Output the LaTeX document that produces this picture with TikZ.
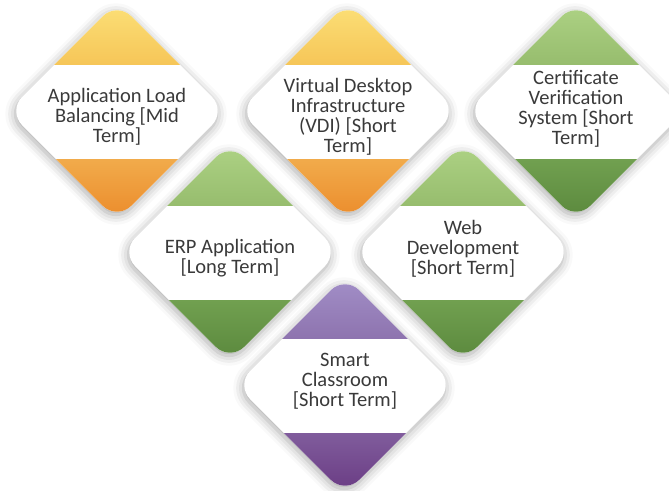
\documentclass[tikz,border=0pt]{standalone}
\usepackage{fontspec}
\setmainfont{Carlito}
\usetikzlibrary{shadows.blur}
\definecolor{orA}{HTML}{FBDD74}
\definecolor{orB}{HTML}{F6C658}
\definecolor{orC}{HTML}{F1AB4B}
\definecolor{orD}{HTML}{EC8F2F}
\definecolor{grA}{HTML}{ABD082}
\definecolor{grB}{HTML}{97BD6E}
\definecolor{grC}{HTML}{71A050}
\definecolor{grD}{HTML}{5D8B3F}
\definecolor{puA}{HTML}{A08CC5}
\definecolor{puB}{HTML}{8E74AF}
\definecolor{puC}{HTML}{805C9C}
\definecolor{puD}{HTML}{6C3F86}
\definecolor{txt}{HTML}{3A3A3A}
\tikzset{
  tilelabel/.style={align=center, text=txt, font=\fontsize{20.5}{20}\selectfont, inner sep=0pt},
  tileshape/.style={fill=white, rounded corners=20pt,
    blur shadow={shadow xshift=-1pt, shadow yshift=-3pt, shadow blur radius=10pt, shadow opacity=35}},
}
% #1 name, #2 cx, #3 cy, #4-#7 colours, #8 text, #9 text y offset
\newcommand\tile[9]{%
  \path[tileshape] (#2,#3-109) -- (#2+109,#3) -- (#2,#3+109) -- (#2-109,#3) -- cycle;
  \begin{scope}
    \clip[rounded corners=20pt] (#2,#3-109) -- (#2+109,#3) -- (#2,#3+109) -- (#2-109,#3) -- cycle;
    \shade[top color=#4, bottom color=#5] (#2-110,#3-101) rectangle (#2+110,#3-47);
    \shade[top color=#6, bottom color=#7] (#2-110,#3+48) rectangle (#2+110,#3+101);
  \end{scope}
  \node[tilelabel] (#1) at (#2,#3+#9) {#8};
}
\begin{document}
\begin{tikzpicture}[x=1pt,y=-1pt]
\useasboundingbox (0,0) rectangle (669,490);
\tile{alb}{117}{111}{orA}{orB}{orC}{orD}{Application Load\\Balancing {[}Mid\\Term{]}}{6}
\tile{vdi}{348}{111}{orA}{orB}{orC}{orD}{Virtual Desktop\\Infrastructure\\(VDI) {[}Short\\Term{]}}{6}
\tile{cvs}{576}{111}{grA}{grB}{grC}{grD}{Certificate\\Verification\\System {[}Short\\Term{]}}{-2}
\tile{erp}{230}{252}{grA}{grB}{grC}{grD}{ERP Application\\{[}Long Term{]}}{6}
\tile{web}{463}{252}{grA}{grB}{grC}{grD}{Web\\Development\\{[}Short Term{]}}{-3}
\tile{smc}{345}{385}{puA}{puB}{puC}{puD}{Smart\\Classroom\\{[}Short Term{]}}{-4}
\end{tikzpicture}
\end{document}
